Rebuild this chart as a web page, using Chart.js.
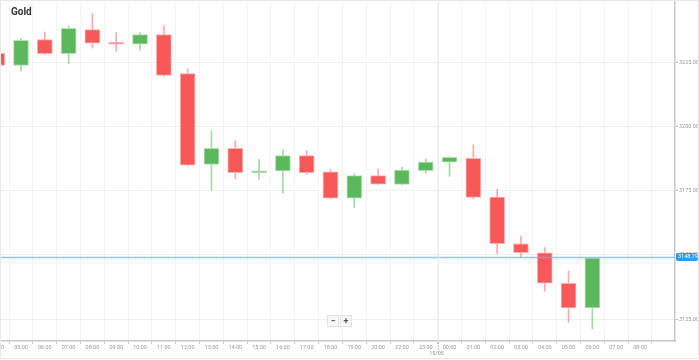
<!DOCTYPE html>
<html>
<head>
<meta charset="utf-8">
<script src="https://cdn.jsdelivr.net/npm/chart.js@4.4.1/dist/chart.umd.min.js"></script>
<style>
    html, body { margin: 0; padding: 0; background: #fff; }
    #wrap { position: relative; width: 697px; height: 357px; border: 1px solid #e8e8e8; }
    #title { position: absolute; left: 10px; top: 5px; font: bold 10px Roboto, sans-serif; color: #333; }
    #zoomBtns { position: absolute; left: 326px; top: 314px; display: flex; gap: 1px; }
    #zoomBtns span { display: block; width: 10px; height: 10px; font: bold 9px/10px Roboto, sans-serif; color: #555;
        text-align: center; background: #f7f7f7; border: 1px solid #e2e2e2; }
</style>
</head>
<body>
<div id="wrap">
    <canvas id="goldChart" width="697" height="357"></canvas>
    <div id="title">Gold</div>
    <div id="zoomBtns"><span>&minus;</span><span>+</span></div>
</div>
<script>
// Hourly candles (the 21:00 slot is missing in the source)
const hours = ['04:00', '05:00', '06:00', '07:00', '08:00', '09:00', '10:00', '11:00', '12:00', '13:00',
    '14:00', '15:00', '16:00', '17:00', '18:00', '19:00', '20:00', '22:00', '23:00', '00:00',
    '01:00', '02:00', '03:00', '04:00', '05:00', '06:00', '07:00', '08:00'];
const openPrices = [3228.5, 3223.8, 3233.9, 3228.4, 3237.8, 3232.8, 3232.1, 3235.8, 3220.6, 3185.3,
    3191.5, 3182.0, 3182.7, 3188.7, 3182.4, 3172.1, 3180.9, 3177.5, 3182.8, 3186.1,
    3187.6, 3172.5, 3154.3, 3150.8, 3139.0, 3129.4, null, null];
const highPrices = [3230.0, 3234.4, 3236.8, 3239.1, 3244.0, 3236.6, 3236.6, 3239.2, 3222.5, 3198.4,
    3194.5, 3187.1, 3191.0, 3190.6, 3183.2, 3181.6, 3183.5, 3184.1, 3187.4, 3188.3,
    3192.9, 3175.7, 3157.4, 3152.9, 3143.8, 3148.79, null, null];
const lowPrices = [3222.5, 3221.6, 3228.0, 3224.5, 3230.6, 3229.3, 3229.7, 3219.5, 3184.7, 3175.3,
    3179.6, 3179.4, 3174.0, 3181.4, 3171.9, 3168.5, 3177.5, 3177.3, 3181.8, 3180.6,
    3171.8, 3150.5, 3149.0, 3135.9, 3123.8, 3121.2, null, null];
const closePrices = [3223.8, 3233.6, 3228.4, 3238.2, 3232.5, 3232.1, 3235.8, 3219.9, 3185.0, 3191.5,
    3182.0, 3182.8, 3188.7, 3182.0, 3172.1, 3180.9, 3177.6, 3183.1, 3186.2, 3188.0,
    3172.4, 3154.4, 3150.9, 3139.0, 3129.4, 3148.79, null, null];
const priceTicks = [3125, 3150, 3175, 3200, 3225];
const lastPrice = 3148.79;
const dayBreakAfter = 18;   // new day starts after the 23:00 candle
const dayLabel = '15/05';

const UP = '#5cb85c';
const DOWN = '#f75858';

function isUp(i) {
    return closePrices[i] >= openPrices[i];
}

const bodies = [];
const wicks = [];
const bodyColors = [];
const bodyBorders = [];
const wickColors = [];
hours.forEach((h, i) => {
    if (openPrices[i] === null) return;
    bodies.push({ x: i, y: [openPrices[i], closePrices[i]] });
    wicks.push({ x: i, y: [lowPrices[i], highPrices[i]] });
    bodyColors.push(isUp(i) ? UP : DOWN);
    bodyBorders.push(isUp(i) ? '#b5e0b5' : '#fbb0b0');
    wickColors.push(isUp(i) ? 'rgba(92,184,92,0.55)' : 'rgba(247,88,88,0.5)');
});

// no extra side padding from the tick labels
function noPadding(scale) {
    scale.paddingLeft = 0;
    scale.paddingRight = 0;
    scale.paddingTop = 0;
    scale.paddingBottom = 0;
}

// Extra drawing: current price line + label, day separator
const overlayPlugin = {
    id: 'overlay',
    afterDatasetsDraw(chart) {
        const ctx = chart.ctx;
        const area = chart.chartArea;
        const ys = chart.scales.y;

        const py = Math.round(ys.getPixelForValue(lastPrice)) - 0.5;
        ctx.save();
        ctx.strokeStyle = 'rgba(100,180,245,0.75)';
        ctx.lineWidth = 1.5;
        ctx.beginPath();
        ctx.moveTo(area.left, py);
        ctx.lineTo(area.right, py);
        ctx.stroke();
        ctx.restore();
    },
    afterDraw(chart) {
        const ctx = chart.ctx;
        const area = chart.chartArea;
        const xs = chart.scales.x;
        const ys = chart.scales.y;

        // price label on the axis
        const py = ys.getPixelForValue(lastPrice) - 1;
        ctx.save();
        ctx.fillStyle = '#2e9bf0';
        ctx.beginPath();
        ctx.roundRect(area.right + 1, py - 4, 22, 8, 2);
        ctx.fill();
        ctx.fillStyle = '#fff';
        ctx.font = '5.5px Roboto, sans-serif';
        ctx.textAlign = 'left';
        ctx.textBaseline = 'middle';
        ctx.fillText(lastPrice.toFixed(2), area.right + 3, py);

        // day separator
        const dx = Math.round(xs.getPixelForValue(dayBreakAfter + 0.5)) + 0.5;
        ctx.strokeStyle = '#ececec';
        ctx.lineWidth = 1;
        ctx.beginPath();
        ctx.moveTo(dx, area.top);
        ctx.lineTo(dx, area.bottom);
        ctx.stroke();
        ctx.strokeStyle = '#c4c4c4';
        ctx.setLineDash([2, 1]);
        ctx.beginPath();
        ctx.moveTo(dx, area.bottom + 1);
        ctx.lineTo(dx, area.bottom + 12);
        ctx.stroke();
        ctx.setLineDash([]);
        ctx.fillStyle = '#999';
        ctx.textAlign = 'center';
        ctx.textBaseline = 'middle';
        ctx.fillText(dayLabel, dx - 2, area.bottom + 13);
        ctx.restore();
    }
};

const ctx = document.getElementById('goldChart').getContext('2d');
new Chart(ctx, {
    type: 'bar',
    data: {
        datasets: [
            {
                data: wicks,
                backgroundColor: wickColors,
                barThickness: 1,
                grouped: false,
                order: 2
            },
            {
                data: bodies,
                backgroundColor: bodyColors,
                borderColor: bodyBorders,
                borderWidth: 1,
                borderSkipped: false,
                barThickness: 15,
                grouped: false,
                order: 1
            }
        ]
    },
    options: {
        responsive: false,
        animation: false,
        layout: { padding: { top: 1, left: 0, right: 0, bottom: 0 } },
        plugins: {
            legend: { display: false },
            tooltip: { enabled: false }
        },
        scales: {
            x: {
                type: 'linear',
                offset: false,
                min: 0.16,
                max: 28.47,
                afterBuildTicks: function(scale) {
                    scale.ticks = hours.map((h, i) => ({ value: i }));
                },
                afterFit: function(scale) {
                    scale.height = 17;
                    noPadding(scale);
                },
                grid: {
                    color: '#f4f4f4',
                    tickColor: '#ccc',
                    tickLength: 3
                },
                border: { color: '#c8c8c8', width: 1.5 },
                ticks: {
                    autoSkip: false,
                    maxRotation: 0,
                    padding: 0,
                    color: '#999',
                    font: { family: 'Roboto', size: 5.5 },
                    callback: function(value) {
                        return hours[value];
                    }
                }
            },
            y: {
                position: 'right',
                min: 3116.5,
                max: 3248.5,
                afterBuildTicks: function(scale) {
                    scale.ticks = priceTicks.map(v => ({ value: v }));
                },
                afterFit: function(scale) {
                    scale.width = 23;
                    noPadding(scale);
                },
                grid: {
                    color: '#f0f0f0',
                    tickColor: '#bbb',
                    tickLength: 3
                },
                border: { color: '#c8c8c8', width: 1.5 },
                ticks: {
                    padding: 1,
                    color: '#999',
                    font: { family: 'Roboto', size: 5.5 },
                    callback: function(value) {
                        return value.toFixed(2);
                    }
                }
            }
        }
    },
    plugins: [overlayPlugin]
});
</script>
</body>
</html>
